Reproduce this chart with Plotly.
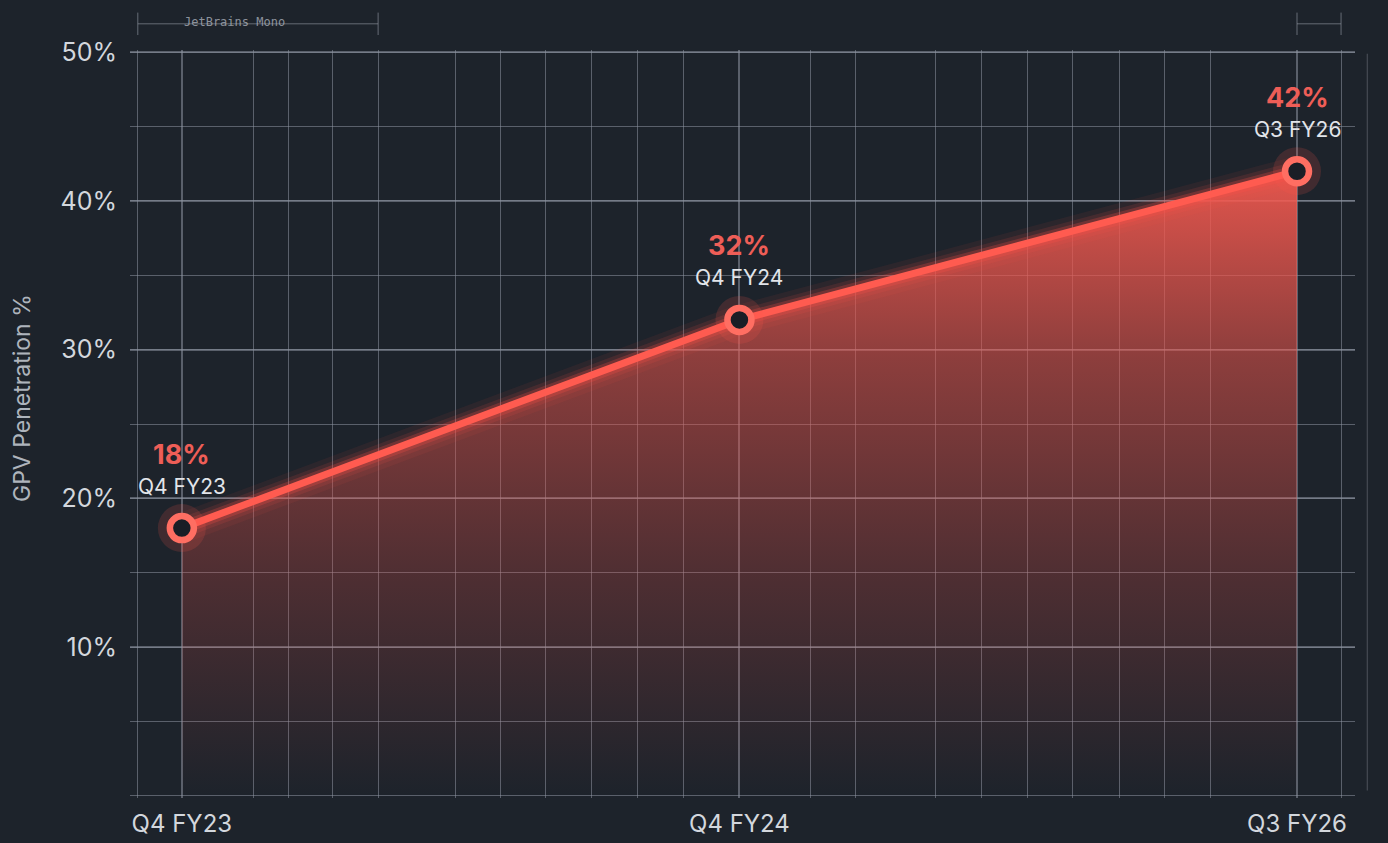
import plotly.graph_objects as go

# ---- data ----
categories = ["Q4 FY23", "Q4 FY24", "Q3 FY26"]
penetration = [18, 32, 42]
pct_labels = ["18%", "32%", "42%"]
y_tick_vals = [10, 20, 30, 40, 50]
y_tick_text = ["10%", "20%", "30%", "40%", "50%"]

# ---- layout helpers (styling / grid positions, not data) ----
x_idx = list(range(len(categories)))
grid_x = [-0.079, 0.129, 0.192, 0.271, 0.352, 0.491, 0.572, 0.653, 0.735,
          0.818, 0.900, 1.128, 1.209, 1.352, 1.435, 1.517, 1.598, 1.681,
          1.763, 1.844, 2.079]

BG = "#1d232b"
GRID = "rgba(140,148,160,0.55)"
RED = "#ff5b50"
FONT = "Inter"

fig = go.Figure()

# gradient area
fig.add_trace(go.Scatter(
    x=x_idx, y=penetration, mode="none", fill="tozeroy",
    fillgradient=dict(type="vertical", colorscale=[
        [0.0, "rgba(225,80,72,0.0)"],
        [0.35, "rgba(225,80,72,0.25)"],
        [0.7, "rgba(232,84,75,0.55)"],
        [1.0, "rgba(245,90,80,0.92)"],
    ]),
    hoverinfo="skip", showlegend=False))

# glow layers
for w, a in [(30, 0.07), (20, 0.12), (13, 0.24)]:
    fig.add_trace(go.Scatter(
        x=x_idx, y=penetration, mode="lines",
        line=dict(color=f"rgba(255,80,70,{a})", width=w),
        hoverinfo="skip", showlegend=False))

# main line
fig.add_trace(go.Scatter(
    x=x_idx, y=penetration, mode="lines",
    line=dict(color=RED, width=7),
    showlegend=False))

# marker glow
fig.add_trace(go.Scatter(
    x=x_idx, y=penetration, mode="markers",
    marker=dict(size=48, color="rgba(255,85,75,0.16)", line=dict(width=0)),
    hoverinfo="skip", showlegend=False))

# markers
fig.add_trace(go.Scatter(
    x=x_idx, y=penetration, mode="markers",
    marker=dict(size=24, color="#1a1e26", line=dict(color="#ff6e62", width=6.5)),
    showlegend=False))

# point labels
for xi, yi, p, c in zip(x_idx, penetration, pct_labels, categories):
    fig.add_annotation(x=xi, y=yi, text=f"<b>{p}</b>", showarrow=False,
                       yshift=74, font=dict(family=FONT, size=27, color="#ee5e57"))
    fig.add_annotation(x=xi, y=yi, text=c, showarrow=False,
                       yshift=42, font=dict(family=FONT, size=21, color="#e2e5ea"))

# y-axis title
fig.add_annotation(xref="paper", yref="paper", x=-0.088, y=0.535,
                   xanchor="center", yanchor="middle",
                   text="GPV Penetration %", textangle=-90, showarrow=False,
                   font=dict(family=FONT, size=23, color="#aeb4bc"))

# decorative dimension marks
deco = "rgba(150,156,166,0.6)"
shapes = [
    dict(type="line", xref="x", yref="paper", x0=-0.079, x1=0.352, y0=1.035, y1=1.035,
         line=dict(color=deco, width=1)),
    dict(type="line", xref="x", yref="paper", x0=-0.079, x1=-0.079, y0=1.02, y1=1.05,
         line=dict(color=deco, width=1)),
    dict(type="line", xref="x", yref="paper", x0=0.352, x1=0.352, y0=1.02, y1=1.05,
         line=dict(color=deco, width=1)),
    dict(type="line", xref="x", yref="paper", x0=2.0, x1=2.079, y0=1.035, y1=1.035,
         line=dict(color=deco, width=1)),
    dict(type="line", xref="x", yref="paper", x0=2.0, x1=2.0, y0=1.02, y1=1.05,
         line=dict(color=deco, width=1)),
    dict(type="line", xref="x", yref="paper", x0=2.079, x1=2.079, y0=1.02, y1=1.05,
         line=dict(color=deco, width=1)),
    dict(type="line", xref="paper", yref="paper", x0=1.01, x1=1.01, y0=0.01, y1=0.995,
         line=dict(color="rgba(150,156,166,0.4)", width=1)),
]
fig.update_layout(shapes=shapes)
fig.add_annotation(xref="x", yref="paper", x=0.095, y=1.05, text="JetBrains Mono",
                   showarrow=False, font=dict(family="DejaVu Sans Mono", size=12,
                                              color="rgba(170,176,186,0.8)"))

fig.update_xaxes(
    range=[-0.093, 2.104],
    tickmode="array", tickvals=x_idx, ticktext=categories,
    showgrid=True, gridcolor=GRID, gridwidth=1.5,
    minor=dict(tickmode="array", tickvals=grid_x, showgrid=True,
               gridcolor=GRID, gridwidth=1.2),
    zeroline=False, showline=False, ticks="",
    tickfont=dict(family=FONT, size=24, color="#d3d7dd"),
    ticklabelstandoff=9, automargin=False,
)
fig.update_yaxes(
    range=[-0.15, 50.15],
    tickmode="array", tickvals=y_tick_vals, ticktext=y_tick_text,
    showgrid=True, gridcolor=GRID, gridwidth=1.5,
    minor=dict(dtick=5, tick0=0, showgrid=True, gridcolor=GRID, gridwidth=1.3),
    zeroline=False, showline=False, ticks="",
    tickfont=dict(family=FONT, size=25, color="#d3d7dd"),
    ticklabelstandoff=12, automargin=False,
)

fig.update_layout(
    width=1388, height=843,
    paper_bgcolor=BG, plot_bgcolor=BG,
    margin=dict(l=130, r=33, t=50, b=45, autoexpand=False),
    showlegend=False,
)

fig.write_html("out.html")
